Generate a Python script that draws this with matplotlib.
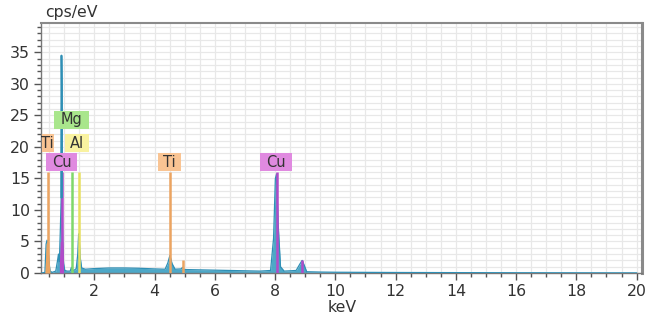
import matplotlib
matplotlib.use("Agg")
import matplotlib.pyplot as plt
from matplotlib.ticker import MultipleLocator
import numpy as np

# spectrum (keV, cps/eV)
energy = [0.25, 0.36, 0.40, 0.43, 0.46, 0.49, 0.53, 0.60, 0.72, 0.78, 0.81, 0.84, 0.87,
          0.90, 0.91, 0.92, 0.93, 0.95, 0.98, 1.02, 1.10, 1.20, 1.24, 1.27, 1.32, 1.40,
          1.45, 1.48, 1.50, 1.53, 1.58, 1.70, 2.00, 2.50, 3.00, 3.50, 4.00, 4.35, 4.44,
          4.51, 4.58, 4.68, 4.88, 4.93, 4.98, 5.50, 6.00, 6.50, 7.00, 7.50, 7.85, 7.95,
          8.01, 8.05, 8.10, 8.18, 8.30, 8.70, 8.82, 8.90, 8.97, 9.05, 9.50, 10.0, 12.0,
          14.0, 16.0, 18.0, 20.0]
cps = [0.0, 0.1, 4.6, 5.2, 4.8, 2.0, 0.3, 0.1, 0.3, 2.0, 3.0, 1.8, 6.5,
       12.0, 34.5, 29.5, 12.0, 5.0, 1.5, 0.4, 0.3, 0.3, 0.9, 0.5, 0.4, 0.7,
       3.0, 6.2, 5.5, 2.5, 0.8, 0.6, 0.7, 0.8, 0.8, 0.75, 0.65, 0.6, 1.6,
       2.8, 1.5, 0.6, 0.65, 0.9, 0.55, 0.5, 0.45, 0.4, 0.35, 0.3, 0.4, 5.5,
       15.0, 15.7, 8.0, 1.0, 0.3, 0.4, 1.4, 2.0, 1.2, 0.2, 0.15, 0.12, 0.08,
       0.06, 0.04, 0.03, 0.02]

# element marker lines
marker_energy = [0.45, 0.93, 1.25, 1.49, 4.51, 4.93, 8.05, 8.90]
marker_height = [16.0, 16.0, 16.0, 16.0, 16.0, 2.0, 16.0, 2.0]
marker_elem = ["Ti", "Cu", "Mg", "Al", "Ti", "Ti", "Cu", "Cu"]

# labels (text, x keV, y centre)
label_text = ["Mg", "Ti", "Al", "Cu", "Ti", "Cu"]
label_x = [1.24, 0.45, 1.42, 0.91, 4.49, 8.03]
label_y = [24.3, 20.6, 20.6, 17.6, 17.6, 17.6]
label_w = [1.14, 0.40, 0.78, 1.04, 0.78, 1.06]

line_col = {"Ti": "#eba461", "Cu": "#b24bc8", "Mg": "#7fd86a", "Al": "#e8e060"}
box_col = {"Ti": "#f9c493", "Cu": "#e08ae0", "Mg": "#a9e68c", "Al": "#f9f2a0"}
# element-coloured peak fills (range start, end, element)
fill_ranges = [(0.36, 0.53, "Ti"), (0.84, 0.98, "Cu")]

fig = plt.figure(figsize=(6.58, 3.2), dpi=100)
ax = fig.add_axes([41 / 658, 1 - 273 / 320, (642.3 - 41) / 658, (273 - 22.7) / 320])

xmin, xmax = 0.23, 20.19
ax.set_xlim(xmin, xmax)
ax.set_ylim(0, 39.7)

ax.xaxis.set_major_locator(MultipleLocator(2))
ax.xaxis.set_minor_locator(MultipleLocator(0.5))
ax.yaxis.set_major_locator(MultipleLocator(5))
ax.yaxis.set_minor_locator(MultipleLocator(1))
ax.grid(True, which="both", color="#e8e8e8", linewidth=0.9)
ax.set_axisbelow(True)

e = np.array(energy)
c = np.array(cps)
teal = "#3a9fc2"
ax.fill_between(e, 0, c, color=teal, alpha=0.9, linewidth=0, zorder=2)
ax.plot(e, c, color="#2f8fb5", linewidth=0.9, zorder=3)
for (a, b, el) in fill_ranges:
    m = (e >= a) & (e <= b)
    ax.fill_between(e[m], 0, np.minimum(c[m], 5.0), color=line_col[el], linewidth=0, zorder=3)

for xe, h, el in zip(marker_energy, marker_height, marker_elem):
    ax.vlines(xe, 0, h, color=line_col[el], linewidth=1.8, zorder=4)
# re-draw the tall Cu L spike on top
ax.plot(e[(e > 0.88) & (e < 0.95)], c[(e > 0.88) & (e < 0.95)], color="#2f8fb5", linewidth=1.2, zorder=5)

for t, x, y, w in zip(label_text, label_x, label_y, label_w):
    el = t
    ax.add_patch(plt.Rectangle((x - w / 2, y - 1.45), w, 2.9, facecolor=box_col[el],
                               edgecolor="none", zorder=6, clip_on=True))
    ax.text(x, y, t, ha="center", va="center", fontsize=10.5, color="#333333", zorder=7,
            family="DejaVu Sans", clip_on=True)

ax.set_xticks(np.arange(2, 21, 2))
ax.set_xticklabels([str(v) for v in range(2, 21, 2)])
ax.tick_params(axis="both", which="major", labelsize=11.3, colors="#555555", labelcolor="#333333",
               length=5, width=1)
ax.tick_params(axis="both", which="minor", colors="#555555", length=3, width=1)
ax.tick_params(axis="x", pad=3)
ax.tick_params(axis="y", pad=3)

for s in ["left", "bottom"]:
    ax.spines[s].set_color("#777777")
    ax.spines[s].set_linewidth(1.0)
ax.spines["top"].set_color("#8a8a8a")
ax.spines["top"].set_linewidth(1.5)
ax.spines["right"].set_color("#8a8a8a")
ax.spines["right"].set_linewidth(2.2)

fig.text(45 / 658, 1 - 13 / 320, "cps/eV", fontsize=11.3, color="#333333", va="center", ha="left")
fig.text(342 / 658, 1 - 308 / 320, "keV", fontsize=11.3, color="#333333", va="center", ha="center")

fig.savefig("out.png", dpi=100, facecolor="white")
